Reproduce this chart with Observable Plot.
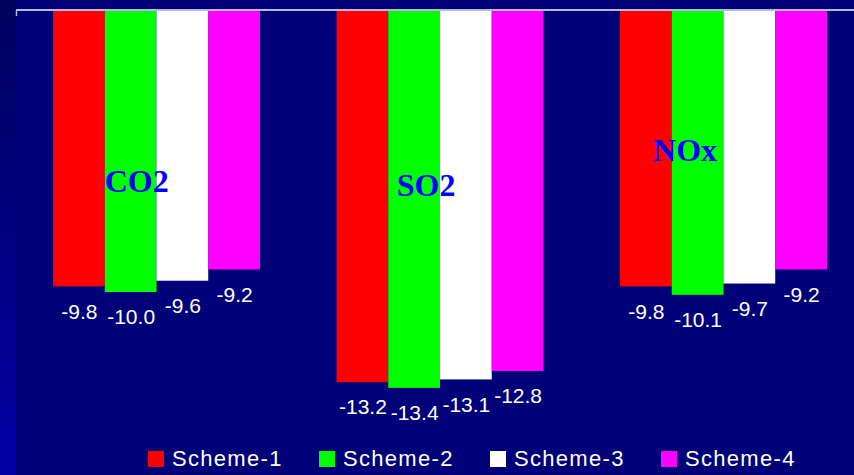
<!DOCTYPE html>
<html>
<head>
<meta charset="utf-8">
<script src="https://cdn.jsdelivr.net/npm/d3@7"></script>
<script src="https://cdn.jsdelivr.net/npm/@observablehq/plot@0.6"></script>
<style>
  body { margin: 0; background: #000078; }
  #wrap { position: relative; width: 854px; height: 475px; background: #000078; overflow: hidden;
          font-family: Arial, "Liberation Sans", sans-serif; }
  #strip { position: absolute; left: 0; top: 0; width: 16px; height: 475px;
           background: linear-gradient(#00005c, #0000a6); }
  #chart { position: absolute; left: 0; top: 0; }
  #legend { position: absolute; left: 148px; top: 447px; display: flex; }
  .item { width: 171px; height: 23px; display: flex; align-items: center; color: #fff;
          font-size: 22px; letter-spacing: 1.3px; }
  .sw { width: 16px; height: 16px; margin-right: 8px; flex: none; }
</style>
</head>
<body>
<div id="wrap">
  <div id="strip"></div>
  <div id="chart"></div>
  <div id="legend"></div>
</div>
<script>
// Emission change per pollutant for each scheme
const categories = ["CO2", "SO2", "NOx"];
const schemes = ["Scheme-1", "Scheme-2", "Scheme-3", "Scheme-4"];
const co2 = [-9.8, -10.0, -9.6, -9.2];
const so2 = [-13.2, -13.4, -13.1, -12.8];
const nox = [-9.8, -10.1, -9.7, -9.2];
const colors = ["#ff0000", "#00ff00", "#ffffff", "#ff00ff"];

const series = {CO2: co2, SO2: so2, NOx: nox};
const rows = categories.flatMap(c => series[c].map((v, i) => ({category: c, scheme: schemes[i], value: v})));

// Pollutant name labels sit inside each group, nudged by hand
const nameSpots = {
  CO2: {dx: 5.5, dy: 171},
  SO2: {dx: 11.5, dy: 175},
  NOx: {dx: -13, dy: 140.5}
};

const nameMarks = categories.map(c => Plot.text([c], {
  fx: d => d,
  x: () => "Scheme-2",
  text: d => d,
  frameAnchor: "top",
  lineAnchor: "middle",
  dx: nameSpots[c].dx,
  dy: nameSpots[c].dy,
  fill: "#0000ff",
  fontSize: 32,
  fontWeight: "bold",
  fontFamily: "'Liberation Serif', 'Times New Roman', serif"
}));

const chart = Plot.plot({
  width: 854,
  height: 430,
  marginLeft: 16,
  marginRight: 0,
  marginTop: 10,
  marginBottom: 25.2,
  style: {background: "transparent", overflow: "visible"},
  fx: {domain: categories, paddingInner: 0.27, paddingOuter: 0.113, align: 0.578, round: false, axis: null, label: null},
  x: {domain: schemes, padding: 0, round: false, axis: null},
  y: {domain: [-14, 0], axis: null},
  color: {domain: schemes, range: colors},
  marks: [
    Plot.barY(rows, {fx: "category", x: "scheme", y: "value", fill: "scheme"}),
    Plot.text(rows, {
      fx: "category", x: "scheme", y: "value",
      text: d => d.value.toFixed(1),
      dy: 25,
      lineAnchor: "middle",
      fill: "#ffffff",
      fontSize: 21,
      fontFamily: "Arial, 'Liberation Sans', sans-serif"
    }),
    ...nameMarks
  ]
});

// Baseline across the full width at value zero
const y0 = chart.scale("y").apply(0);
const svg = d3.select(chart);
svg.append("line")
  .attr("x1", 16).attr("x2", 854).attr("y1", y0).attr("y2", y0)
  .attr("stroke", "#b8b8dc").attr("stroke-width", 2);
svg.append("line")
  .attr("x1", 16.5).attr("x2", 16.5).attr("y1", y0).attr("y2", y0 + 6)
  .attr("stroke", "#b8b8dc").attr("stroke-width", 1.5);

document.getElementById("chart").appendChild(chart);

// Legend
const legend = d3.select("#legend");
schemes.forEach((s, i) => {
  const item = legend.append("div").attr("class", "item");
  item.append("span").attr("class", "sw").style("background", colors[i]);
  item.append("span").text(s);
});
</script>
</body>
</html>
